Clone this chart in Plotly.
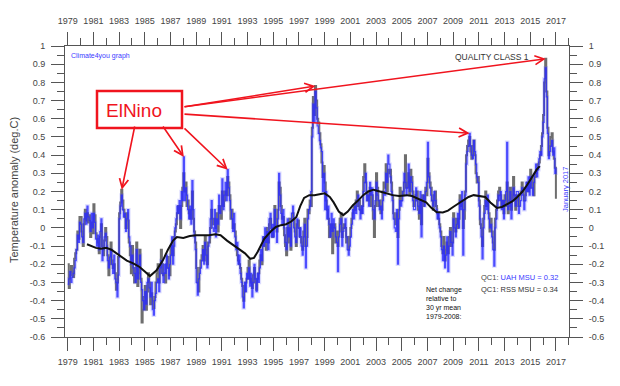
import plotly.graph_objects as go

# ---------------- data ----------------
# Monthly lower-troposphere anomalies, Jan 1979 .. Jan 2017 (deg C, 1979-2008 base)
uah_msu = [
    -0.31, -0.28, -0.24, -0.30, -0.27, -0.25, -0.22, -0.18, -0.12, -0.04, -0.08, 0.03,   # 1979
    0.02, -0.05, -0.08, 0.05, 0.08, 0.02, 0.12, 0.06, 0.04, -0.02, 0.08, 0.00,          # 1980
    0.08, 0.03, -0.06, -0.10, -0.04, -0.12, -0.02, 0.05, -0.18, -0.12, -0.05, -0.03,    # 1981
    -0.10, -0.18, -0.22, -0.16, -0.12, -0.20, -0.25, -0.15, -0.28, -0.30, -0.38, -0.26, # 1982
    0.05, 0.12, 0.18, 0.10, 0.06, 0.08, -0.02, 0.05, 0.10, -0.05, -0.10, -0.20,         # 1983
    -0.15, -0.22, -0.25, -0.30, -0.12, -0.28, -0.20, -0.15, -0.30, -0.34, -0.40, -0.45, # 1984
    -0.35, -0.42, -0.30, -0.28, -0.33, -0.38, -0.30, -0.45, -0.48, -0.40, -0.36, -0.30, # 1985
    -0.28, -0.35, -0.22, -0.18, -0.25, -0.30, -0.20, -0.25, -0.15, -0.22, -0.28, -0.20, # 1986
    -0.15, -0.05, -0.20, -0.10, 0.00, 0.05, 0.12, 0.08, 0.15, 0.05, 0.20, 0.15,         # 1987
    0.39, 0.15, 0.22, 0.18, 0.10, 0.05, 0.12, 0.02, 0.26, 0.10, -0.05, -0.12,           # 1988
    -0.30, -0.37, -0.28, -0.25, -0.22, -0.18, -0.12, -0.20, -0.08, -0.15, -0.22, -0.10, # 1989
    -0.05, 0.05, 0.15, 0.00, -0.02, 0.10, -0.05, 0.05, 0.02, 0.18, 0.08, 0.12,          # 1990
    0.27, 0.10, 0.18, 0.25, 0.15, 0.32, 0.22, 0.15, 0.10, 0.05, -0.02, 0.08,            # 1991
    -0.05, -0.12, -0.08, -0.20, -0.15, -0.25, -0.30, -0.38, -0.44, -0.30, -0.35, -0.25, # 1992
    -0.28, -0.22, -0.32, -0.25, -0.38, -0.30, -0.20, -0.28, -0.35, -0.25, -0.30, -0.22, # 1993
    -0.12, -0.18, -0.05, -0.10, 0.00, -0.08, -0.02, -0.12, 0.05, 0.08, -0.05, 0.02,     # 1994
    -0.05, 0.10, 0.00, -0.08, 0.05, 0.30, 0.18, 0.08, 0.02, 0.10, 0.00, -0.08,          # 1995
    -0.12, 0.05, -0.05, 0.00, -0.10, 0.08, 0.12, 0.00, -0.05, -0.08, 0.05, 0.00,        # 1996
    -0.05, 0.00, -0.10, -0.15, -0.05, 0.02, -0.22, -0.10, 0.05, 0.10, 0.12, 0.20,       # 1997
    0.50, 0.68, 0.58, 0.75, 0.66, 0.56, 0.52, 0.48, 0.44, 0.42, 0.20, 0.30,             # 1998
    0.10, 0.20, 0.05, 0.12, 0.02, -0.05, 0.08, -0.02, 0.05, 0.00, -0.05, -0.08,         # 1999
    -0.24, -0.05, 0.02, 0.05, -0.10, -0.02, 0.00, 0.05, -0.05, -0.12, -0.15, -0.10,     # 2000
    -0.05, 0.02, 0.10, 0.05, 0.12, 0.08, 0.15, 0.18, 0.10, 0.05, 0.12, 0.08,            # 2001
    0.20, 0.25, 0.30, 0.15, 0.18, 0.12, 0.25, 0.18, 0.22, 0.10, 0.05, 0.15,             # 2002
    0.25, 0.18, 0.15, 0.10, 0.12, 0.05, 0.15, 0.20, 0.18, 0.30, 0.25, 0.40,             # 2003
    0.35, 0.28, 0.20, 0.15, 0.05, 0.00, -0.02, 0.10, -0.20, 0.05, 0.15, 0.12,           # 2004
    0.15, 0.20, 0.30, 0.25, 0.18, 0.22, 0.35, 0.20, 0.28, 0.25, 0.15, 0.10,             # 2005
    0.10, 0.22, 0.15, 0.12, 0.08, 0.20, -0.05, 0.15, 0.18, 0.12, 0.20, 0.25,            # 2006
    0.47, 0.28, 0.22, 0.18, 0.15, 0.12, 0.20, 0.15, 0.10, 0.05, 0.08, 0.00,             # 2007
    -0.05, -0.12, -0.18, -0.10, -0.22, -0.15, -0.05, -0.24, -0.10, -0.02, -0.08, -0.15, # 2008
    0.05, 0.00, -0.05, 0.02, 0.08, 0.00, 0.15, 0.10, 0.20, -0.15, 0.10, 0.18,           # 2009
    0.35, 0.42, 0.45, 0.52, 0.45, 0.40, 0.38, 0.48, 0.42, 0.35, 0.28, 0.25,             # 2010
    0.12, 0.05, -0.05, -0.17, 0.00, 0.08, 0.15, 0.10, 0.18, 0.05, 0.00, 0.02,           # 2011
    -0.05, -0.12, -0.21, 0.00, 0.05, 0.12, 0.18, 0.15, 0.20, 0.10, 0.15, 0.05,          # 2012
    0.15, 0.20, 0.47, 0.10, 0.12, 0.20, 0.05, 0.15, 0.22, 0.18, 0.12, 0.20,             # 2013
    0.20, 0.08, 0.12, 0.15, 0.22, 0.18, 0.10, 0.15, 0.25, 0.20, 0.28, 0.18,             # 2014
    0.28, 0.22, 0.18, 0.25, 0.30, 0.35, 0.28, 0.32, 0.38, 0.42, 0.40, 0.50,             # 2015
    0.58, 0.82, 0.88, 0.72, 0.52, 0.38, 0.42, 0.45, 0.48, 0.40, 0.44, 0.30,             # 2016
    0.33,                                                                               # 2017
]

rss_msu = [
    -0.20, -0.33, -0.26, -0.21, -0.24, -0.27, -0.17, -0.14, -0.12, -0.02, -0.06, 0.06,  # 1979
    0.06, -0.02, -0.10, 0.02, 0.10, 0.04, 0.08, 0.03, 0.07, -0.05, 0.03, -0.03,         # 1980
    0.13, 0.07, -0.03, -0.06, -0.08, -0.14, -0.05, 0.02, -0.10, -0.15, -0.07, 0.00,     # 1981
    -0.05, -0.15, -0.26, -0.20, -0.08, -0.18, -0.22, -0.20, -0.25, -0.34, -0.30, -0.16, # 1982
    0.08, 0.14, 0.21, 0.15, 0.10, 0.06, 0.00, 0.08, 0.04, -0.08, -0.15, -0.25,          # 1983
    -0.10, -0.26, -0.30, -0.22, -0.08, -0.32, -0.25, -0.12, -0.28, -0.52, -0.45, -0.38, # 1984
    -0.32, -0.45, -0.35, -0.25, -0.30, -0.42, -0.36, -0.40, -0.44, -0.38, -0.30, -0.25, # 1985
    -0.20, -0.30, -0.25, -0.12, -0.20, -0.26, -0.25, -0.30, -0.20, -0.16, -0.22, -0.26, # 1986
    -0.10, -0.12, -0.15, -0.05, -0.02, 0.02, 0.08, 0.12, 0.10, 0.00, 0.12, 0.22,        # 1987
    0.30, 0.20, 0.25, 0.12, 0.15, 0.08, 0.05, 0.10, 0.20, 0.05, -0.02, -0.08,           # 1988
    -0.22, -0.30, -0.35, -0.22, -0.18, -0.15, -0.10, -0.18, -0.05, -0.12, -0.20, -0.08, # 1989
    -0.08, 0.00, 0.10, 0.05, 0.02, 0.05, 0.00, 0.08, -0.02, 0.12, 0.10, 0.05,           # 1990
    0.20, 0.12, 0.15, 0.20, 0.18, 0.28, 0.25, 0.18, 0.05, 0.10, 0.00, 0.02,             # 1991
    -0.02, -0.10, -0.15, -0.18, -0.20, -0.22, -0.28, -0.32, -0.40, -0.35, -0.30, -0.28, # 1992
    -0.22, -0.18, -0.28, -0.30, -0.33, -0.26, -0.22, -0.30, -0.34, -0.28, -0.25, -0.18, # 1993
    -0.15, -0.20, -0.10, -0.05, -0.05, -0.12, 0.00, -0.08, 0.02, 0.05, 0.00, -0.05,     # 1994
    0.00, 0.12, 0.05, -0.02, 0.10, 0.25, 0.22, 0.12, 0.05, 0.06, -0.04, -0.10,          # 1995
    -0.15, 0.00, -0.08, 0.05, -0.12, 0.05, 0.08, 0.05, -0.02, -0.10, 0.02, 0.04,        # 1996
    0.00, -0.05, -0.08, -0.12, -0.02, 0.05, -0.10, -0.05, 0.10, 0.08, 0.15, 0.12,       # 1997
    0.55, 0.72, 0.62, 0.78, 0.70, 0.60, 0.58, 0.52, 0.46, 0.36, 0.28, 0.34,             # 1998
    0.25, 0.15, 0.10, 0.05, -0.05, 0.00, 0.02, -0.14, 0.00, 0.02, -0.08, -0.02,         # 1999
    -0.10, -0.02, 0.05, 0.08, -0.05, 0.00, 0.02, 0.00, -0.08, -0.05, -0.12, -0.05,      # 2000
    0.00, 0.05, 0.08, 0.12, 0.10, 0.15, 0.20, 0.12, 0.15, 0.10, 0.08, 0.12,             # 2001
    0.28, 0.35, 0.25, 0.20, 0.15, 0.18, 0.22, 0.12, 0.18, 0.05, -0.05, 0.12,            # 2002
    0.30, 0.22, 0.12, 0.15, 0.08, 0.10, 0.20, 0.25, 0.22, 0.35, 0.20, 0.32,             # 2003
    0.30, 0.32, 0.25, 0.18, 0.08, 0.05, 0.02, 0.08, -0.05, 0.10, 0.22, 0.15,            # 2004
    0.20, 0.18, 0.25, 0.40, 0.22, 0.25, 0.30, 0.18, 0.32, 0.28, 0.20, 0.12,             # 2005
    0.15, 0.18, 0.20, 0.10, 0.05, 0.15, 0.02, 0.18, 0.12, 0.15, 0.22, 0.18,             # 2006
    0.38, 0.30, 0.25, 0.22, 0.15, 0.10, 0.18, 0.20, 0.12, 0.08, 0.05, 0.02,             # 2007
    -0.02, -0.10, -0.14, -0.05, -0.18, -0.12, -0.08, -0.14, -0.05, 0.00, -0.10, -0.08,  # 2008
    0.08, 0.05, -0.02, 0.05, 0.00, 0.05, 0.18, 0.12, 0.15, 0.00, 0.05, 0.20,            # 2009
    0.40, 0.45, 0.48, 0.50, 0.42, 0.38, 0.45, 0.48, 0.40, 0.30, 0.25, 0.28,             # 2010
    0.15, 0.02, 0.00, -0.10, 0.05, 0.12, 0.20, 0.12, 0.15, 0.08, -0.02, 0.05,           # 2011
    -0.02, -0.08, -0.12, 0.05, 0.10, 0.15, 0.20, 0.22, 0.18, 0.12, 0.15, 0.08,          # 2012
    0.18, 0.12, 0.25, 0.08, 0.15, 0.22, 0.10, 0.18, 0.28, 0.15, 0.10, 0.18,             # 2013
    0.15, 0.12, 0.18, 0.20, 0.25, 0.22, 0.15, 0.18, 0.22, 0.25, 0.20, 0.22,             # 2014
    0.32, 0.28, 0.22, 0.18, 0.28, 0.30, 0.32, 0.35, 0.36, 0.40, 0.45, 0.52,             # 2015
    0.62, 0.80, 0.93, 0.75, 0.55, 0.40, 0.45, 0.50, 0.52, 0.42, 0.38, 0.33,             # 2016
    0.16,                                                                               # 2017
]

# Thick black running-mean curve
smooth_year = [1980.5, 1980.8, 1981.2, 1981.6, 1982.0, 1982.4, 1982.8, 1983.2, 1983.6, 1984.1,
               1984.6, 1985.0, 1985.4, 1985.9, 1986.4, 1986.8, 1987.2, 1987.5, 1988.0, 1988.5,
               1989.0, 1989.5, 1990.0, 1990.5, 1990.9, 1991.4, 1991.9, 1992.4, 1992.8, 1993.2,
               1993.5, 1993.8, 1994.3, 1994.8, 1995.2, 1995.6, 1996.0, 1996.4, 1996.8, 1997.1,
               1997.4, 1997.8, 1998.2, 1998.6, 1999.0, 1999.4, 1999.7, 2000.1, 2000.45, 2000.8,
               2001.2, 2001.6, 2002.0, 2002.4, 2002.8, 2003.3, 2003.8, 2004.3, 2004.8, 2005.4,
               2005.8, 2006.1, 2006.5, 2006.9, 2007.3, 2007.7, 2008.2, 2008.6, 2009.0, 2009.4,
               2009.8, 2010.2, 2010.6, 2011.0, 2011.5, 2011.9, 2012.4, 2012.8, 2013.2, 2013.6,
               2014.0, 2014.4, 2014.8, 2015.2, 2015.5, 2015.75]
smooth_val = [-0.09, -0.10, -0.11, -0.115, -0.11, -0.12, -0.14, -0.16, -0.18, -0.195,
              -0.215, -0.24, -0.265, -0.235, -0.18, -0.12, -0.07, -0.05, -0.055, -0.045,
              -0.04, -0.04, -0.04, -0.035, -0.04, -0.07, -0.096, -0.12, -0.14, -0.17,
              -0.165, -0.13, -0.06, -0.02, 0.005, 0.015, 0.02, 0.035, 0.06, 0.12,
              0.165, 0.18, 0.18, 0.185, 0.19, 0.17, 0.14, 0.09, 0.07, 0.09,
              0.125, 0.15, 0.18, 0.20, 0.21, 0.20, 0.19, 0.18, 0.175, 0.18,
              0.175, 0.165, 0.155, 0.14, 0.11, 0.087, 0.085, 0.095, 0.115, 0.135,
              0.152, 0.17, 0.18, 0.175, 0.17, 0.14, 0.11, 0.115, 0.13, 0.145,
              0.17, 0.20, 0.24, 0.29, 0.32, 0.34]

start_year = 1979
x_tick_years = list(range(1979, 2018, 2))
y_tick_vals = [1.0, 0.9, 0.8, 0.7, 0.6, 0.5, 0.4, 0.3, 0.2, 0.1, 0.0,
               -0.1, -0.2, -0.3, -0.4, -0.5, -0.6]
y_tick_text = ["1", "0.9", "0.8", "0.7", "0.6", "0.5", "0.4", "0.3", "0.2", "0.1", "0",
               "-0.1", "-0.2", "-0.3", "-0.4", "-0.5", "-0.6"]

# El Nino events the arrows point at (search windows, in years)
elnino_windows = [(1983.0, 1983.4), (1987.9, 1988.2), (1991.3, 1991.6),
                  (1998.2, 1998.4), (2010.2, 2010.4), (2016.0, 2016.3)]

# ---------------- layout constants ----------------
W, H = 620, 386
OFF = 8                       # page offset of the figure inside the browser window
PL, PR, PT, PB = 65, 569, 46, 337   # wanted plot rectangle on screen
ML, MT = PL - OFF, PT - OFF
MR, MB = W - (PR - OFF), H - (PB - OFF)
XR = [1978.79, 2018.02]
YR = [-0.6, 1.0]
FONT = "Liberation Sans, Arial, sans-serif"
RED = "#f0141e"
BLUE = "#3a3aff"


def px_to_year(px):
    return XR[0] + (px - PL) / (PR - PL) * (XR[1] - XR[0])


def py_to_val(py):
    return YR[0] + (PB - py) / (PB - PT) * (YR[1] - YR[0])


def px_to_paper(px):
    return (px - PL) / (PR - PL)


def py_to_paper(py):
    return (PB - py) / (PB - PT)


months = [start_year + i / 12 for i in range(len(uah_msu))]

fig = go.Figure()
fig.add_trace(go.Scatter(x=months, y=rss_msu, mode="lines", line_shape="hv",
                         line=dict(color="rgba(85,85,85,0.85)", width=2.0), hoverinfo="skip"))
# soft halo + crisp line for the blue (UAH) series
fig.add_trace(go.Scatter(x=months, y=uah_msu, mode="lines", line_shape="hv",
                         line=dict(color="rgba(90,90,255,0.22)", width=3.6), hoverinfo="skip",
                         xaxis="x2", yaxis="y2"))
fig.add_trace(go.Scatter(x=months, y=uah_msu, mode="lines", line_shape="hv",
                         line=dict(color="rgba(40,40,255,0.8)", width=1.2), hoverinfo="skip",
                         xaxis="x2", yaxis="y2"))
fig.add_trace(go.Scatter(x=smooth_year, y=smooth_val, mode="lines",
                         line=dict(color="#111111", width=2.0),
                         hoverinfo="skip", xaxis="x2", yaxis="y2"))

axis_common = dict(showline=True, linecolor="#555", linewidth=1, ticks="outside",
                   tickcolor="#555", tickwidth=1, ticklen=13, showgrid=False, zeroline=False,
                   automargin=False, tickfont=dict(family=FONT, size=9, color="#444"))
xminor = dict(ticks="outside", ticklen=7, tickcolor="#555", tick0=1979, dtick=1, showgrid=False)
yminor = dict(ticks="outside", ticklen=7, tickcolor="#555", tick0=0, dtick=0.05, showgrid=False)

fig.update_layout(
    width=W, height=H, margin=dict(l=ML, r=MR, t=MT, b=MB, autoexpand=False),
    paper_bgcolor="white", plot_bgcolor="white", showlegend=False,
    font=dict(family=FONT),
    xaxis=dict(range=XR, side="bottom", anchor="y", tickmode="array",
               tickvals=x_tick_years, ticktext=[str(v) for v in x_tick_years],
               minor=xminor, ticklabelstandoff=3, **axis_common),
    xaxis2=dict(range=XR, side="top", overlaying="x", anchor="y2", tickmode="array",
                tickvals=x_tick_years, ticktext=[str(v) for v in x_tick_years],
                minor=xminor, ticklabelstandoff=4, **axis_common),
    yaxis=dict(range=YR, side="left", anchor="x", tickmode="array",
               tickvals=y_tick_vals, ticktext=y_tick_text, minor=yminor,
               ticklabelstandoff=4, **axis_common),
    yaxis2=dict(range=YR, side="right", overlaying="y", anchor="x2", tickmode="array",
                tickvals=y_tick_vals, ticktext=y_tick_text, minor=yminor,
                ticklabelstandoff=4, **axis_common),
)

annotations = [
    dict(text="Temperature anomaly (deg.C)", textangle=-90, x=px_to_paper(14), y=py_to_paper(190),
         font=dict(size=11, color="#444")),
    dict(text="Climate4you graph", x=px_to_paper(69), y=py_to_paper(56), xanchor="left",
         font=dict(size=7, color=BLUE)),
    dict(text="QUALITY CLASS 1", x=px_to_paper(492), y=py_to_paper(57),
         font=dict(size=8.5, color="#333")),
    dict(text="January 2017", textangle=-90, x=px_to_paper(565), y=py_to_paper(190),
         font=dict(size=7.5, color=BLUE)),
    dict(text="Net change<br>relative to<br>30 yr mean<br>1979-2008:", x=px_to_paper(424),
         y=py_to_paper(284), xanchor="left", yanchor="top", align="left",
         font=dict(size=7, color="#111")),
    dict(text="QC1: <span style='color:%s'>UAH MSU = 0.32</span>" % BLUE, x=px_to_paper(560),
         y=py_to_paper(277), xanchor="right", font=dict(size=7.5, color="#444")),
    dict(text="QC1: RSS MSU = 0.34", x=px_to_paper(560), y=py_to_paper(289), xanchor="right",
         font=dict(size=7.5, color="#333")),
    dict(text="ElNino", x=px_to_paper(134), y=py_to_paper(110), font=dict(size=19, color=RED)),
]
for a in annotations:
    a.update(xref="paper", yref="paper", showarrow=False)
    a.setdefault("xanchor", "center")
    a.setdefault("yanchor", "middle")

# arrows from the ElNino box to the peaks
arrow_tails_px = [(135, 125), (162, 125), (183, 127), (183, 107), (183, 114), (183, 107)]
for (lo, hi), (tx, ty) in zip(elnino_windows, arrow_tails_px):
    best = None
    for xm, u, r in zip(months, uah_msu, rss_msu):
        if lo - 1e-6 <= xm <= hi + 1e-6:
            v = max(u, r)
            if best is None or v > best[1]:
                best = (xm, v)
    annotations.append(dict(
        x=best[0] + 1 / 24, y=best[1], xref="x", yref="y",
        ax=px_to_year(tx), ay=py_to_val(ty), axref="x", ayref="y",
        text="", showarrow=True, arrowhead=5, arrowsize=1.1, arrowwidth=1.6,
        arrowcolor=RED, standoff=0, startstandoff=0))

fig.update_layout(annotations=annotations)
fig.add_shape(type="rect", xref="paper", yref="paper",
              x0=px_to_paper(97), x1=px_to_paper(182), y0=py_to_paper(128), y1=py_to_paper(91),
              line=dict(color=RED, width=2.5), fillcolor="white", layer="above")
fig.write_html("out.html")
